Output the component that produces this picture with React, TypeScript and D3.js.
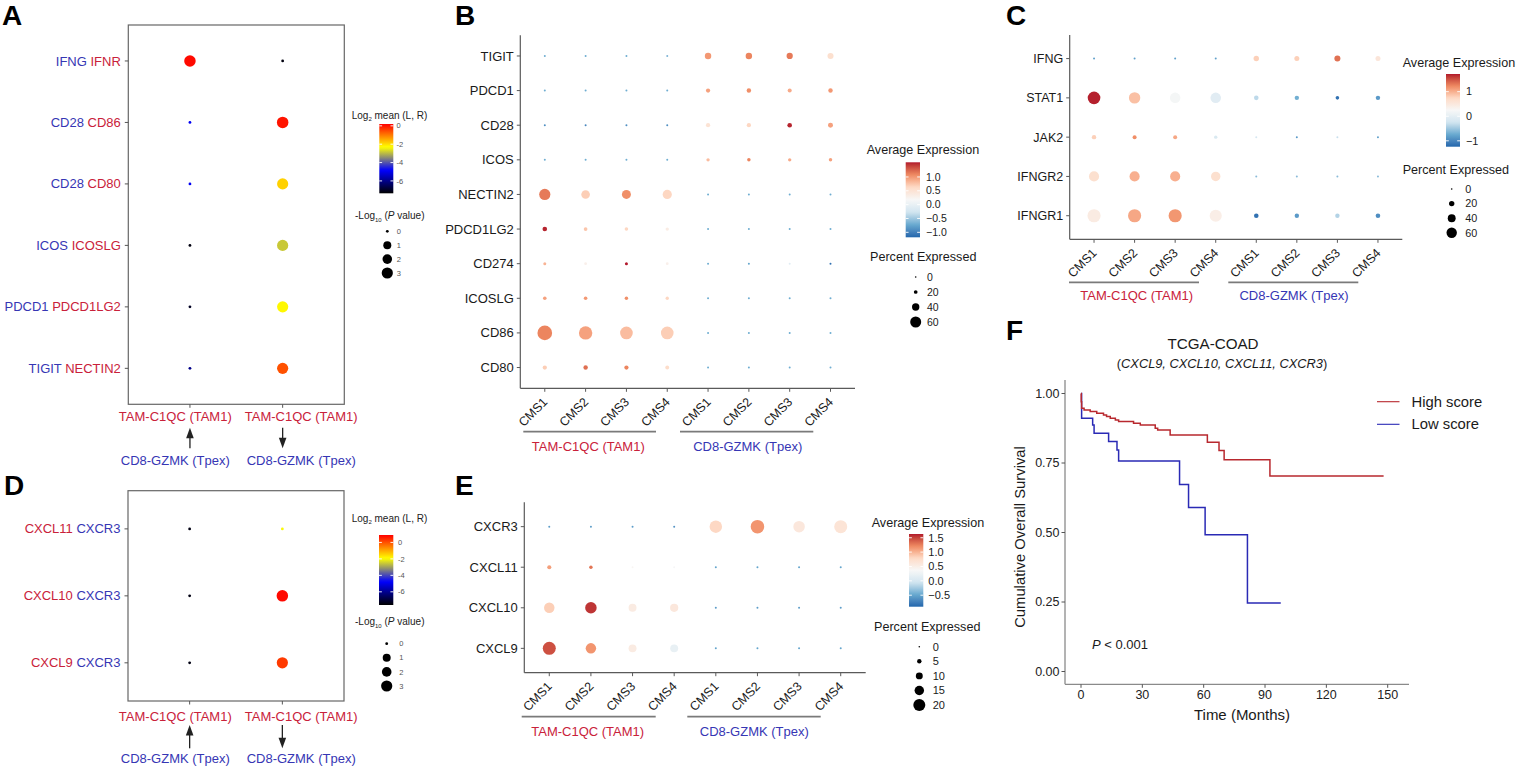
import React from "react";
import * as d3 from "d3";

const FONT = "'Liberation Sans', Arial, Helvetica, sans-serif";
const RED = "#c9213a";
const BLUE = "#3636b4";
const INK = "#1a1a1a";
const AXIS = "#5a5a5a";

// ---------------- shared categories ----------------
const cmsLabels = ["CMS1", "CMS2", "CMS3", "CMS4"];
const groupNames = ["TAM-C1QC (TAM1)", "CD8-GZMK (Tpex)"];
const xKeys = groupNames.flatMap((g) => cmsLabels.map((c) => g + "|" + c));

// ---------------- panel A ----------------
const aPairs = [["IFNG", "IFNR"], ["CD28", "CD86"], ["CD28", "CD80"], ["ICOS", "ICOSLG"], ["PDCD1", "PDCD1LG2"], ["TIGIT", "NECTIN2"]];
const aDirections = ["up", "down"];
const aMean = [[0.1, -7.2], [-4.95, 0.0], [-4.95, -1.86], [-7.2, -2.86], [-7.0, -2.25], [-6.0, -0.6]];
const aLogP = [[3.2, 0], [0, 3.2], [0, 3], [0, 3], [0, 3], [0, 3]];
const lrColorTicks = [0, -2, -4, -6];
const lrSizeTicks = [0, 1, 2, 3];

// ---------------- panel D ----------------
const dPairs = [["CXCL11", "CXCR3"], ["CXCL10", "CXCR3"], ["CXCL9", "CXCR3"]];
const dMean = [[-7.4, -2.0], [-7.4, 0.8], [-7.4, 0.26]];
const dLogP = [[0, 0], [0, 3.2], [0, 3]];

// ---------------- panel B ----------------
const bGenes = ["TIGIT", "PDCD1", "CD28", "ICOS", "NECTIN2", "PDCD1LG2", "CD274", "ICOSLG", "CD86", "CD80"];
const bAvg = [
  [-0.7, -0.7, -0.7, -0.65, 1.0, 1.1, 1.15, 0.55],
  [-0.7, -0.7, -0.7, -0.7, 0.95, 1.05, 0.9, 1.0],
  [-0.9, -0.95, -0.9, -0.9, 0.5, 0.65, 1.5, 0.95],
  [-0.7, -0.7, -0.7, -0.7, 0.8, 1.1, 0.9, 0.95],
  [1.15, 0.7, 1.05, 0.65, -0.7, -0.7, -0.7, -0.7],
  [1.5, 0.75, 0.65, 0.35, -0.7, -0.7, -0.7, -0.7],
  [0.85, 0.3, 1.55, 0.3, -0.7, -0.75, -0.1, -1.1],
  [0.95, 1.0, 1.05, 0.65, -0.7, -0.7, -0.7, -0.7],
  [1.1, 0.95, 0.8, 0.7, -0.7, -0.7, -0.7, -0.7],
  [0.7, 1.2, 1.1, 0.6, -0.7, -0.7, -0.7, -0.7],
];
const bPct = [
  [1, 1, 1, 1, 35, 35, 34, 33],
  [1, 1, 1, 1, 23, 24, 22, 24],
  [2, 2, 2, 3, 23, 23, 25, 27],
  [1, 1, 1, 1, 17, 18, 17, 18],
  [61, 47, 49, 50, 1, 1, 1, 1],
  [25, 20, 19, 17, 1, 1, 1, 1],
  [14, 12, 14, 12, 1, 1, 1, 1],
  [19, 19, 18, 17, 1, 1, 1, 1],
  [80, 73, 69, 69, 1, 1, 1, 1],
  [23, 24, 23, 21, 1, 1, 1, 1],
];
const bColorTicks = [1.0, 0.5, 0.0, -0.5, -1.0];
const bSizeTicks = [0, 20, 40, 60];

// ---------------- panel C ----------------
const cGenes = ["IFNG", "STAT1", "JAK2", "IFNGR2", "IFNGR1"];
const cAvg = [
  [-0.8, -0.8, -0.8, -0.8, 0.8, 0.8, 1.35, 0.55],
  [1.7, 0.9, 0.2, -0.05, -0.35, -0.7, -1.15, -0.85],
  [0.8, 1.2, 1.05, -0.15, -0.2, -0.85, -0.3, -0.8],
  [0.65, 1.0, 1.0, 0.65, -0.6, -0.6, -0.6, -0.6],
  [0.45, 1.05, 1.15, 0.4, -1.15, -0.85, -0.4, -0.95],
];
const cPct = [
  [1, 1, 1, 1, 20, 18, 25, 18],
  [78, 68, 61, 61, 16, 15, 11, 15],
  [15, 13, 13, 10, 1, 3, 1, 3],
  [58, 58, 58, 52, 1, 1, 1, 1],
  [82, 82, 82, 74, 16, 15, 15, 16],
];
const cColorTicks = [1, 0, -1];
const cSizeTicks = [0, 20, 40, 60];

// ---------------- panel E ----------------
const eGenes = ["CXCR3", "CXCL11", "CXCL10", "CXCL9"];
const eAvg = [
  [-0.55, -0.55, -0.55, -0.6, 0.8, 1.15, 0.6, 0.65],
  [1.1, 1.3, 0.4, 0.35, -0.5, -0.5, -0.5, -0.5],
  [0.85, 1.55, 0.55, 0.6, -0.55, -0.55, -0.55, -0.55],
  [1.45, 1.15, 0.55, 0.2, -0.5, -0.5, -0.5, -0.5],
];
const ePct = [
  [1, 1, 1, 1, 21, 23, 19, 22],
  [4.5, 3.5, 0.5, 0.5, 1, 1, 1, 1],
  [17, 19, 12, 12.5, 1, 1, 1, 1],
  [22, 17, 12, 12, 1, 1, 1, 1],
];
const eColorTicks = [1.5, 1.0, 0.5, 0.0, -0.5];
const eSizeTicks = [0, 5, 10, 15, 20];

// ---------------- panel F ----------------
const fXTicks = [0, 30, 60, 90, 120, 150];
const fYTicks = [0, 0.25, 0.5, 0.75, 1.0];
const hiTime = [0, 0.1, 0.3, 1.5, 4.5, 7.7, 11, 12.5, 14.3, 16.8, 18.4, 25.7, 29, 36.3, 37.5, 43.6, 61.8, 67.5, 70, 92.4];
const hiSurv = [1.0, 0.97, 0.947, 0.941, 0.935, 0.929, 0.923, 0.917, 0.911, 0.905, 0.899, 0.893, 0.887, 0.875, 0.869, 0.851, 0.825, 0.795, 0.762, 0.703];
const hiEnd = 148;
const loTime = [0, 0.3, 5.7, 6.4, 13.5, 17.6, 18.4, 48.2, 52.6, 60.7, 81.4];
const loSurv = [1.0, 0.911, 0.887, 0.857, 0.827, 0.797, 0.757, 0.673, 0.59, 0.492, 0.246];
const loEnd = 97.7;
const kmLegend = ["High score", "Low score"];

// ---------------- colour helpers ----------------
const rdbuColors = ["#2166ac", "#67a9cf", "#d1e5f0", "#f7f7f7", "#fddbc7", "#ef8a62", "#b2182b"];
const hotColors = ["#000000", "#0000ff", "#ffff00", "#ff0000"];
function rdbuScale(lo: number, hi: number) {
  return d3.scaleSequential(d3.piecewise(d3.interpolateLab, rdbuColors)).domain([lo, hi]).clamp(true);
}
function hotScale(lo: number, hi: number) {
  return d3.scaleSequential(d3.piecewise(d3.interpolateRgb, hotColors)).domain([lo, hi]).clamp(true);
}
const minus = (v: number, digits: number) => {
  const s = Math.abs(v).toFixed(digits);
  return v < 0 ? "\u2212" + s : s;
};

function ColorBar(props: any) {
  const { x, y, w, h, scale, ticks, fmt, labelX, fs, labelFill, id } = props;
  const [lo, hi] = scale.domain();
  const yS = d3.scaleLinear().domain([lo, hi]).range([y + h, y]);
  const stops = d3.range(0, 41).map((i) => i / 40);
  return (
    <g>
      <defs>
        <linearGradient id={id} x1="0" y1="1" x2="0" y2="0">
          {stops.map((s) => (
            <stop key={s} offset={s} stopColor={scale(lo + (hi - lo) * s)} />
          ))}
        </linearGradient>
      </defs>
      <rect x={x} y={y} width={w} height={h} fill={`url(#${id})`} />
      {ticks.map((t: number) => (
        <g key={t}>
          <line x1={x} x2={x + w * 0.2} y1={yS(t)} y2={yS(t)} stroke="#fff" strokeWidth={0.9} />
          <line x1={x + w * 0.8} x2={x + w} y1={yS(t)} y2={yS(t)} stroke="#fff" strokeWidth={0.9} />
          <text x={labelX} y={yS(t)} dy="0.35em" fontSize={fs} fill={labelFill}>
            {fmt(t)}
          </text>
        </g>
      ))}
    </g>
  );
}

// ---------------- ligand-receptor panel (A, D) ----------------
function LRPanel(props: any) {
  const { pairs, mean, logp, firstColor, secondColor, box, colorDomain, cb, sz, labels, id } = props;
  const cols = ["c0", "c1"];
  const x = d3.scalePoint().domain(cols).range([box.left, box.right]).padding(box.padX);
  const y = d3.scalePoint().domain(pairs.map((p: string[]) => p.join(" "))).range([box.top, box.bottom]).padding(box.padY);
  const color = hotScale(colorDomain[0], colorDomain[1]);
  const r = d3.scaleLinear().domain([0, 1, 2, 3]).range([1.4, 4, 4.8, 5.6]);
  return (
    <g>
      <rect x={box.left} y={box.top} width={box.right - box.left} height={box.bottom - box.top} fill="none" stroke="#666" strokeWidth={1.2} />
      {pairs.map((p: string[], i: number) => {
        const yy = y(p.join(" "))!;
        return (
          <g key={i}>
            <line x1={box.left - 3.5} x2={box.left} y1={yy} y2={yy} stroke="#555" />
            <text x={box.left - 7.5} y={yy} dy="0.35em" textAnchor="end" fontSize={13}>
              <tspan fill={firstColor}>{p[0]}</tspan>
              <tspan fill={secondColor}>{" " + p[1]}</tspan>
            </text>
            {cols.map((c, j) => (
              <circle key={c} cx={x(c)} cy={yy} r={r(logp[i][j])} fill={color(mean[i][j])} />
            ))}
          </g>
        );
      })}
      {cols.map((c, j) => (
        <g key={c}>
          <line x1={x(c)} x2={x(c)} y1={box.bottom} y2={box.bottom + 3.5} stroke="#555" />
          <text x={labels.centers[j]} y={labels.topY} dy="0.35em" textAnchor="middle" fontSize={13} fill={RED}>
            {groupNames[0]}
          </text>
          <text x={labels.centers[j]} y={labels.botY} dy="0.35em" textAnchor="middle" fontSize={13} fill={BLUE}>
            {groupNames[1]}
          </text>
          {aDirections[j] === "up" ? (
            <g>
              <line x1={x(c)} x2={x(c)} y1={labels.arrowBot} y2={labels.arrowTop + 8} stroke="#222" strokeWidth={1.3} />
              <path d={`M${x(c)},${labels.arrowTop} L${x(c)! - 3.8},${labels.arrowTop + 10.5} L${x(c)! + 3.8},${labels.arrowTop + 10.5} Z`} fill="#222" />
            </g>
          ) : (
            <g>
              <line x1={x(c)} x2={x(c)} y1={labels.arrowTop} y2={labels.arrowBot - 8} stroke="#222" strokeWidth={1.3} />
              <path d={`M${x(c)},${labels.arrowBot} L${x(c)! - 3.8},${labels.arrowBot - 10.5} L${x(c)! + 3.8},${labels.arrowBot - 10.5} Z`} fill="#222" />
            </g>
          )}
        </g>
      ))}
      {/* colour legend */}
      <text x={cb.titleX} y={cb.titleY} dy="0.35em" fontSize={10} fill="#222">
        Log<tspan fontSize={6} dy={2.5}>2</tspan>
        <tspan dy={-2.5}> mean (L, R)</tspan>
      </text>
      <ColorBar id={id} x={cb.x} y={cb.y} w={cb.w} h={cb.h} scale={color} ticks={lrColorTicks} fmt={(t: number) => String(t)} labelX={cb.labelX} fs={7.5} labelFill="#555" />
      {/* size legend */}
      <text x={sz.titleX} y={sz.titleY} dy="0.35em" fontSize={10} fill="#222">
        -Log<tspan fontSize={6} dy={2.5}>10</tspan>
        <tspan dy={-2.5}> (</tspan>
        <tspan fontStyle="italic">P</tspan>
        <tspan> value)</tspan>
      </text>
      {lrSizeTicks.map((t, i) => (
        <g key={t}>
          <circle cx={sz.x} cy={sz.y0 + i * sz.step} r={r(t)} fill="#000" />
          <text x={sz.labelX} y={sz.y0 + i * sz.step} dy="0.35em" fontSize={7.5} fill="#555">
            {t}
          </text>
        </g>
      ))}
    </g>
  );
}

// ---------------- Seurat-like dot plot (B, C, E) ----------------
function DotPanel(props: any) {
  const { genes, avg, pct, frame, colorDomain, sizeDomain, sizeRange, cb, sz, groups, fs, id } = props;
  const x = d3.scalePoint().domain(xKeys).range([frame.left, frame.right]).padding(0.6);
  const y = d3.scalePoint().domain(genes).range([frame.top, frame.bottom]).padding(0.6);
  const color = rdbuScale(colorDomain[0], colorDomain[1]);
  const r = d3.scaleLinear().domain(sizeDomain).range(sizeRange);
  return (
    <g>
      <line x1={frame.left} x2={frame.left} y1={frame.top} y2={frame.bottom} stroke={AXIS} strokeWidth={1.2} />
      <line x1={frame.left} x2={frame.right} y1={frame.bottom} y2={frame.bottom} stroke={AXIS} strokeWidth={1.2} />
      {genes.map((g: string, i: number) => (
        <g key={g}>
          <line x1={frame.left - 3.5} x2={frame.left} y1={y(g)} y2={y(g)} stroke={AXIS} />
          <text x={frame.left - 6.5} y={y(g)} dy="0.35em" textAnchor="end" fontSize={fs} fill={INK}>
            {g}
          </text>
          {xKeys.map((k, j) => (
            <circle key={k} cx={x(k)} cy={y(g)} r={Math.max(1.0, r(pct[i][j]))} fill={color(avg[i][j])} />
          ))}
        </g>
      ))}
      {xKeys.map((k) => (
        <g key={k}>
          <line x1={x(k)} x2={x(k)} y1={frame.bottom} y2={frame.bottom + 3.5} stroke={AXIS} />
          <text transform={`translate(${x(k)! + 3.5},${frame.bottom + 14.5}) rotate(-45)`} textAnchor="end" fontSize={12.5} fill={INK}>
            {k.split("|")[1]}
          </text>
        </g>
      ))}
      {groups.lines.map((l: number[], i: number) => (
        <g key={i}>
          <line x1={l[0]} x2={l[1]} y1={groups.lineY} y2={groups.lineY} stroke="#7a7a7a" strokeWidth={1.7} />
          <text x={groups.centers[i]} y={groups.textY} dy="0.35em" textAnchor="middle" fontSize={13} fill={i === 0 ? RED : BLUE}>
            {groupNames[i]}
          </text>
        </g>
      ))}
      <text x={cb.titleX} y={cb.titleY} dy="0.35em" fontSize={12.6} fill={INK}>
        Average Expression
      </text>
      <ColorBar id={id} x={cb.x} y={cb.y} w={cb.w} h={cb.h} scale={color} ticks={cb.ticks} fmt={(t: number) => minus(t, cb.digits)} labelX={cb.labelX} fs={cb.fs} labelFill={INK} />
      <text x={sz.titleX} y={sz.titleY} dy="0.35em" fontSize={12.6} fill={INK}>
        Percent Expressed
      </text>
      {sz.ticks.map((t: number, i: number) => (
        <g key={t}>
          <circle cx={sz.x} cy={sz.y0 + i * sz.step} r={Math.max(0.8, r(t))} fill="#000" />
          <text x={sz.labelX} y={sz.y0 + i * sz.step} dy="0.35em" fontSize={cb.fs} fill={INK}>
            {t}
          </text>
        </g>
      ))}
    </g>
  );
}

// ---------------- Kaplan-Meier (F) ----------------
function KMPanel() {
  const x = d3.scaleLinear().domain([0, 150]).range([1081, 1387.7]);
  const y = d3.scaleLinear().domain([0, 1]).range([671.5, 393.5]);
  const line = d3
    .line<[number, number]>()
    .x((d) => x(d[0]))
    .y((d) => y(d[1]))
    .curve(d3.curveStepAfter);
  const hiPts: [number, number][] = hiTime.map((t, i) => [t, hiSurv[i]] as [number, number]);
  hiPts.push([hiEnd, hiSurv[hiSurv.length - 1]]);
  const loPts: [number, number][] = loTime.map((t, i) => [t, loSurv[i]] as [number, number]);
  loPts.push([loEnd, loSurv[loSurv.length - 1]]);
  const axX = 1065;
  const axY = 684.3;
  const hiCol = "#b8282e";
  const loCol = "#2a2ab5";
  return (
    <g>
      <text x={1213} y={344} dy="0.35em" textAnchor="middle" fontSize={15.2} fill={INK}>
        TCGA-COAD
      </text>
      <text x={1222} y={364} dy="0.35em" textAnchor="middle" fontSize={12.8} fill={INK}>
        (<tspan fontStyle="italic">CXCL9, CXCL10, CXCL11, CXCR3</tspan>)
      </text>
      <line x1={axX} x2={axX} y1={380} y2={axY} stroke="#8a8a8a" strokeWidth={1.3} />
      <line x1={axX} x2={1409} y1={axY} y2={axY} stroke="#8a8a8a" strokeWidth={1.3} />
      {fYTicks.map((t) => (
        <g key={t}>
          <line x1={axX - 3.5} x2={axX} y1={y(t)} y2={y(t)} stroke="#555" />
          <text x={axX - 5.5} y={y(t)} dy="0.35em" textAnchor="end" fontSize={12.5} fill="#222">
            {t.toFixed(2)}
          </text>
        </g>
      ))}
      {fXTicks.map((t) => (
        <g key={t}>
          <line x1={x(t)} x2={x(t)} y1={axY} y2={axY + 3.5} stroke="#555" />
          <text x={x(t)} y={695} dy="0.35em" textAnchor="middle" fontSize={12.5} fill="#222">
            {t}
          </text>
        </g>
      ))}
      <text transform={`translate(1020,537) rotate(-90)`} dy="0.35em" textAnchor="middle" fontSize={14.8} fill={INK}>
        Cumulative Overall Survival
      </text>
      <text x={1242} y={715} dy="0.35em" textAnchor="middle" fontSize={15} fill={INK}>
        Time (Months)
      </text>
      <path d={line(loPts)!} fill="none" stroke={loCol} strokeWidth={1.5} />
      <path d={line(hiPts)!} fill="none" stroke={hiCol} strokeWidth={1.5} />
      <text x={1092} y={644} dy="0.35em" fontSize={13} fill={INK}>
        <tspan fontStyle="italic">P</tspan> {"< 0.001"}
      </text>
      {kmLegend.map((name, i) => (
        <g key={name}>
          <line x1={1377} x2={1399.5} y1={401.7 + i * 22.6} y2={401.7 + i * 22.6} stroke={i === 0 ? hiCol : loCol} strokeWidth={1.1} />
          <text x={1411.5} y={401.7 + i * 22.6} dy="0.35em" fontSize={14.8} fill={INK}>
            {name}
          </text>
        </g>
      ))}
    </g>
  );
}

function Letter({ x, y, t }: { x: number; y: number; t: string }) {
  return (
    <text x={x} y={y} fontSize={28} fontWeight="bold" fill="#000">
      {t}
    </text>
  );
}

export default function App() {
  return (
    <svg width={1535} height={772} style={{ position: "absolute", left: 0, top: 0, background: "#fff" }} fontFamily={FONT}>
      <rect x={0} y={0} width={1535} height={772} fill="#fff" />
      <Letter x={2} y={25} t="A" />
      <Letter x={455} y={25} t="B" />
      <Letter x={1006} y={25} t="C" />
      <Letter x={4} y={495} t="D" />
      <Letter x={455} y={495} t="E" />
      <Letter x={1006} y={340} t="F" />

      <LRPanel
        id="gA"
        pairs={aPairs}
        mean={aMean}
        logp={aLogP}
        firstColor={BLUE}
        secondColor={RED}
        box={{ left: 128.3, right: 344.3, top: 25, bottom: 404.3, padX: 0.665, padY: 0.585 }}
        colorDomain={[-7.35, 0.2]}
        cb={{ titleX: 351.7, titleY: 115, x: 379.3, y: 124, w: 14, h: 69.3, labelX: 396.5 }}
        sz={{ titleX: 355, titleY: 215.7, x: 387.3, y0: 231.3, step: 13.9, labelX: 396.7 }}
        labels={{ centers: [175.3, 301.2], topY: 416.7, botY: 460, arrowTop: 427.7, arrowBot: 448.3 }}
      />
      <LRPanel
        id="gD"
        pairs={dPairs}
        mean={dMean}
        logp={dLogP}
        firstColor={RED}
        secondColor={BLUE}
        box={{ left: 128, right: 344, top: 490.7, bottom: 701, padX: 0.665, padY: 0.57 }}
        colorDomain={[-7.6, 0.9]}
        cb={{ titleX: 351.7, titleY: 518.3, x: 379, y: 535, w: 14.3, h: 70, labelX: 398 }}
        sz={{ titleX: 355, titleY: 621.7, x: 386.7, y0: 643.7, step: 14.1, labelX: 399.3 }}
        labels={{ centers: [175.3, 301.2], topY: 716, botY: 758, arrowTop: 725, arrowBot: 748.3 }}
      />

      <DotPanel
        id="gB"
        genes={bGenes}
        avg={bAvg}
        pct={bPct}
        fs={13}
        frame={{ left: 520.3, right: 855, top: 35.2, bottom: 388.3 }}
        colorDomain={[-1.18, 1.53]}
        sizeDomain={[0, 20, 60]}
        sizeRange={[0.7, 1.85, 5.5]}
        cb={{ titleX: 866.7, titleY: 150, x: 905.7, y: 162.3, w: 14.3, h: 75, labelX: 926, ticks: bColorTicks, digits: 1, fs: 10.5 }}
        sz={{ titleX: 870, titleY: 256.7, x: 915.7, y0: 277, step: 15, labelX: 927, ticks: bSizeTicks }}
        groups={{ lines: [[523.3, 656], [680, 813.3]], lineY: 431.7, textY: 446.7, centers: [588.3, 747.7] }}
      />
      <DotPanel
        id="gC"
        genes={cGenes}
        avg={cAvg}
        pct={cPct}
        fs={12.5}
        frame={{ left: 1069.7, right: 1402.3, top: 35, bottom: 239.3 }}
        colorDomain={[-1.24, 1.72]}
        sizeDomain={[0, 20, 60]}
        sizeRange={[0.7, 2.7, 5.2]}
        cb={{ titleX: 1402.7, titleY: 62.3, x: 1446, y: 74, w: 14, h: 72.7, labelX: 1466, ticks: cColorTicks, digits: 0, fs: 10.8 }}
        sz={{ titleX: 1402.7, titleY: 170, x: 1451.7, y0: 189, step: 14.6, labelX: 1465.3, ticks: cSizeTicks }}
        groups={{ lines: [[1069, 1199], [1228.3, 1358.3]], lineY: 282.3, textY: 295, centers: [1136.7, 1294] }}
      />
      <DotPanel
        id="gE"
        genes={eGenes}
        avg={eAvg}
        pct={ePct}
        fs={13}
        frame={{ left: 524.3, right: 865.7, top: 502.3, bottom: 672.7 }}
        colorDomain={[-0.9, 1.63]}
        sizeDomain={[0, 5, 20]}
        sizeRange={[0.6, 2.2, 6.0]}
        cb={{ titleX: 871.7, titleY: 522.3, x: 909, y: 534, w: 14.3, h: 72.7, labelX: 928.3, ticks: eColorTicks, digits: 1, fs: 11 }}
        sz={{ titleX: 874, titleY: 626.7, x: 919.3, y0: 646.7, step: 14.6, labelX: 932.7, ticks: eSizeTicks }}
        groups={{ lines: [[521.7, 655.7], [687.3, 820.7]], lineY: 716.7, textY: 731, centers: [587.7, 754.3] }}
      />

      <KMPanel />
    </svg>
  );
}
